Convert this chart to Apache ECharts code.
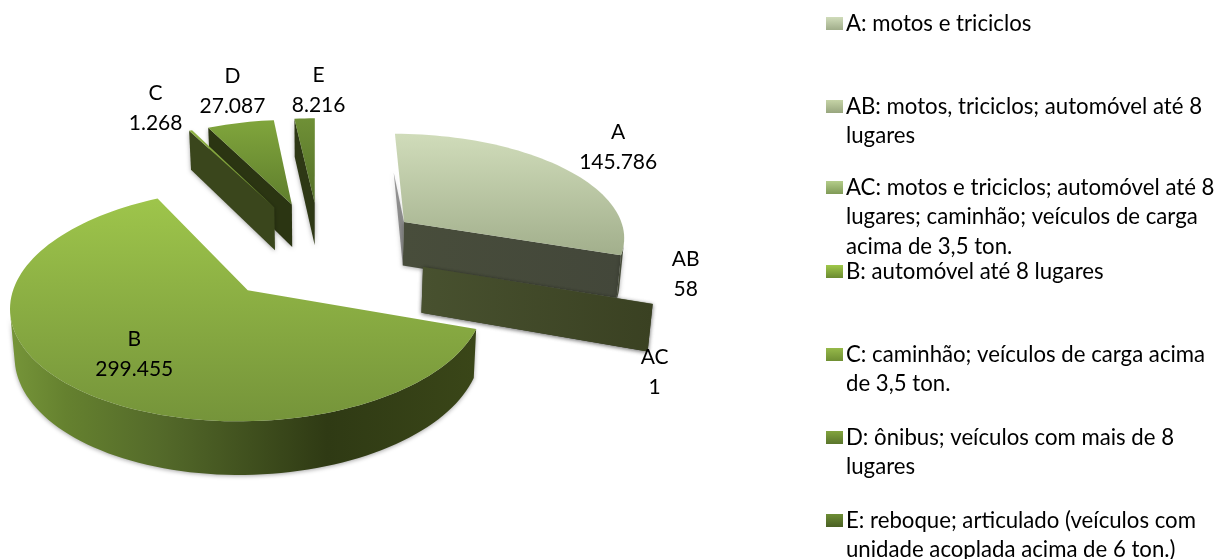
<!DOCTYPE html>
<html><head><meta charset="utf-8">
<style>html,body{margin:0;padding:0;background:#fff}#c{width:1217px;height:559px}</style>
<script src="https://cdn.jsdelivr.net/npm/echarts@6/dist/echarts.min.js"></script>
</head><body><div id="c"></div>
<script>
const categories = ['A','AB','AC','B','C','D','E'];
const values = [145786,58,1,299455,1268,27087,8216];
const legendLabels = [
  ['A: motos e triciclos'],
  ['AB: motos, triciclos; automóvel até 8','lugares'],
  ['AC: motos e triciclos; automóvel até 8','lugares; caminhão; veículos de carga','acima de 3,5 ton.'],
  ['B: automóvel até 8 lugares'],
  ['C: caminhão; veículos de carga acima','de 3,5 ton.'],
  ['D: ônibus; veículos com mais de 8','lugares'],
  ['E: reboque; articulado (veículos com','unidade acoplada acima de 6 ton.)']
];
const FONT='Lato', FS=21, LEGEND_FS=22.2;
const topColors=[['#d0dcba','#a2af8c'],['#c5d3a6','#98a67e'],['#b4cd8a','#7f9a56'],['#9ec54b','#75943a'],['#8fb144','#6a8a30'],['#80a53c','#5f7e2d'],['#6f9036','#557029']];
const swatchColors=[['#d0dcba','#a0ad8a'],['#c5d3a6','#98a67e'],['#b4cd8a','#7f9a56'],['#a0c84a','#6a8a30'],['#96b94a','#6f8f33'],['#82a43e','#5a752c'],['#6d8d35','#4a6024']];
const wallColors=['#474c3a','#454d2d','#434b2a','#333f17','#3a461c','#2b3512','#2e3815'];
const paintOrder=['E','D','C','A','AB','AC','B'];
const labelOffset=[[54,-21],[33,-30],[2,68],[63,-32],[-35,-22],[-8,-32],[14,-28]];
const legendRowY=[24,107,188,272,355,438,521];

// perspective ground-plane projection
const VX=316,VY=-630,RX=.255,RB=.0001355,CX=.0049,CB=.0011359,EXPL=.4744,EXPLB=.48,DROP=.051,SQ=.015;
const total=values.reduce((a,b)=>a+b,0);
const rad=d=>d*Math.PI/180;
function proj(gx,b){return [VX+gx/b,1/b+VY];}
function low(p){return [VX+(p[0]-VX)*(1-SQ),(p[1]-VY)*(1+DROP)+VY];}
function fmt(v){return String(v).replace(/\B(?=(\d{3})+$)/g,'.');}
function grad(c,dir){return new echarts.graphic.LinearGradient(0,0,dir?1:0,dir?0:1,[{offset:0,color:c[0]},{offset:1,color:c[1]}]);}
const SH={shadowBlur:4,shadowColor:'rgba(0,0,0,.35)',shadowOffsetX:0,shadowOffsetY:1};

function renderSlice(params,api){
  const i=params.dataIndex, val=api.value(0);
  let before=0; for(let k=0;k<i;k++) before+=values[k];
  const a0=before/total*360, a1=(before+val)/total*360, mid=(a0+a1)/2;
  const mu=Math.sin(rad(mid)), mv=-Math.cos(rad(mid));
  const ax=CX+EXPL*RX*mu, ab=CB-EXPLB*RB*mv;
  const pt=(deg)=>{const u=Math.sin(rad(deg)),v=-Math.cos(rad(deg));return proj(ax+RX*u,ab-RB*v);};
  const apex=proj(ax,ab);
  const n=Math.max(2,Math.ceil((a1-a0)/2));
  const arc=[];for(let k=0;k<=n;k++)arc.push(pt(a0+(a1-a0)*k/n));
  const z=paintOrder.indexOf(categories[i])*10;
  const kids=[];
  const wall=(pts,fill,zz)=>kids.push({type:'polygon',z2:z+zz,shape:{points:pts},style:Object.assign({fill:fill},SH)});
  const area=(q)=>{let s=0;q.forEach((p,j)=>{const r=q[(j+1)%q.length];s+=p[0]*r[1]-r[0]*p[1];});return s;};
  const w0=[apex,arc[0],low(arc[0]),low(apex)];
  const w1=[arc[n],apex,low(apex),low(arc[n])];
  const a_w0=area(w0);
  if(a_w0<-1200) wall(w0,wallColors[i],1);
  else if(a_w0<-0.01) wall([low(arc[0]),apex,low(apex)],'rgba(70,70,70,.55)',1);
  if(area(w1)<-0.01) wall(w1,i===0?grad(['#484d3b','#43473a'],1):i===1||i===2?grad(['#48512f','#3a4122'],1):wallColors[i],2);
  const vis=[];for(let k=0;k<n;k++){const q=[arc[k],arc[k+1],low(arc[k+1]),low(arc[k])];if(area(q)<0&&Math.cos(rad(a0+(a1-a0)*(k+.5)/n))<0.1)vis.push(k);}
  if(vis.length){
    const s=arc.slice(vis[0],vis[vis.length-1]+2);
    const poly=s.concat(s.map(low).reverse());
    const fill=categories[i]==='B'
      ? new echarts.graphic.LinearGradient(0,0,1,0,[{offset:0,color:'#769539'},{offset:.12,color:'#65812f'},{offset:.32,color:'#546a2a'},{offset:.68,color:'#2f3a14'},{offset:1,color:'#3a4618'}])
      : wallColors[i];
    wall(poly,fill,3);
  }
  kids.push({type:'polygon',z2:z+4,shape:{points:[apex].concat(arc)},style:{fill:grad(topColors[i],0)}});
  const om=pt(mid),o=labelOffset[i];
  kids.push({type:'text',z2:200,style:{text:categories[i]+'\n'+fmt(val),x:om[0]+o[0],y:om[1]+o[1],align:'center',verticalAlign:'middle',fontFamily:FONT,fontSize:FS,lineHeight:30,fill:'#000'}});
  return {type:'group',children:kids};
}

const graphicEls=[];
legendLabels.forEach((lines,i)=>{
  graphicEls.push({type:'rect',x:826,y:legendRowY[i]-7,shape:{width:17,height:13},style:{fill:grad(swatchColors[i],0)},silent:true});
  lines.forEach((t,j)=>graphicEls.push({type:'text',x:846,y:legendRowY[i]+j*29.3,silent:true,style:{text:t,fontFamily:FONT,fontSize:LEGEND_FS,fill:'#000',verticalAlign:'middle',align:'left'}}));
});

const chart=echarts.init(document.getElementById('c'),null,{renderer:'canvas'});
chart.setOption({
  animation:false,backgroundColor:'#fff',
  graphic:graphicEls,
  series:[{type:'custom',coordinateSystem:'none',data:values.map(v=>[v]),renderItem:renderSlice,silent:true}]
});
</script></body></html>
